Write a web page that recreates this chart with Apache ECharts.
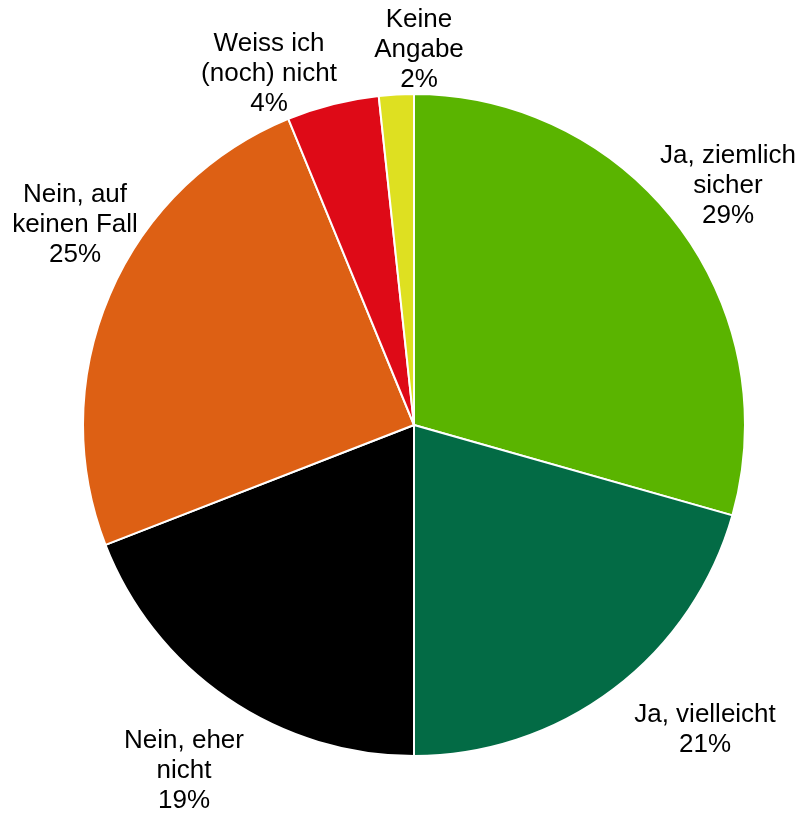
<!DOCTYPE html>
<html>
<head>
<meta charset="utf-8">
<script src="https://cdn.jsdelivr.net/npm/echarts@6/dist/echarts.min.js"></script>
<style>
html,body{margin:0;padding:0;background:#fff;}
#chart{width:801px;height:813px;}
</style>
</head>
<body>
<div id="chart"></div>
<script>
// Data
const categories = ['Ja, ziemlich\nsicher', 'Ja, vielleicht', 'Nein, eher\nnicht', 'Nein, auf\nkeinen Fall', 'Weiss ich\n(noch) nicht', 'Keine\nAngabe'];
const values = [29.4, 20.6, 19.1, 24.7, 4.5, 1.7];
const percentLabels = ['29%', '21%', '19%', '25%', '4%', '2%'];

// Styling / layout
const colors = ['#5AB400', '#036B45', '#000000', '#DD6014', '#DE0A17', '#DEE021'];
const CX = 414, CY = 425, R = 331;
// label centre offsets from the pie centre (layout only)
const labelOffsets = [[314, -239], [291, 305], [-230, 346], [-339, -200], [-145, -351], [5, -375]];

const chart = echarts.init(document.getElementById('chart'), null, {renderer: 'canvas'});
chart.setOption({
  animation: false,
  backgroundColor: '#ffffff',
  series: [{
    type: 'pie',
    center: [CX, CY],
    radius: R,
    startAngle: 90,
    clockwise: true,
    avoidLabelOverlap: false,
    itemStyle: {borderColor: '#ffffff', borderWidth: 2},
    label: {
      show: true,
      position: 'outside',
      fontFamily: 'Liberation Sans, Arial, sans-serif',
      fontSize: 26,
      lineHeight: 30,
      color: '#000000',
      align: 'center',
      formatter: p => categories[p.dataIndex] + '\n' + percentLabels[p.dataIndex]
    },
    labelLine: {show: false},
    labelLayout: function (params) {
      const o = labelOffsets[params.dataIndex];
      return {x: CX + o[0], y: CY + o[1], align: 'center', verticalAlign: 'middle'};
    },
    emphasis: {disabled: true},
    data: values.map((v, i) => ({value: v, name: categories[i], itemStyle: {color: colors[i]}}))
  }]
});
</script>
</body>
</html>
